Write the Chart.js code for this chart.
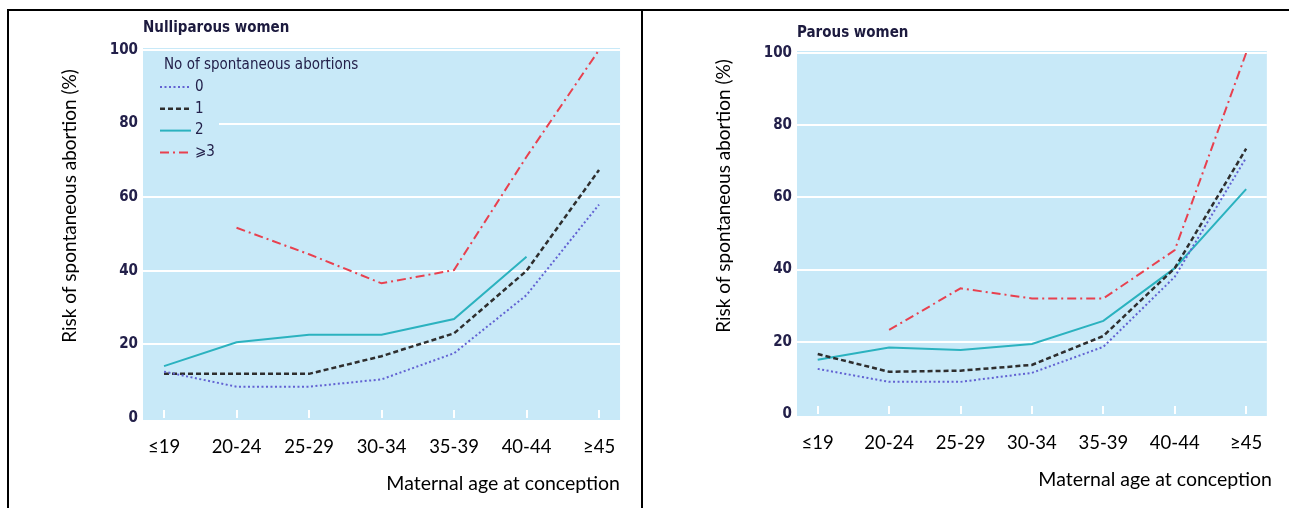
<!DOCTYPE html>
<html>
<head>
<meta charset="utf-8">
<script src="https://cdn.jsdelivr.net/npm/chart.js@4.4.1/dist/chart.umd.min.js"></script>
<style>
body { margin: 0; background: #fff; width: 1289px; height: 508px; overflow: hidden; position: relative; }
canvas { position: absolute; top: 0; }
.frame { position: absolute; background: #000; }
</style>
</head>
<body>
<canvas id="nulli" width="642" height="508" style="left:0"></canvas>
<canvas id="parous" width="647" height="508" style="left:642px"></canvas>
<div class="frame" style="left:7px;top:9px;width:1282px;height:2px"></div>
<div class="frame" style="left:7px;top:9px;width:2px;height:499px"></div>
<div class="frame" style="left:641px;top:9px;width:2px;height:499px"></div>
<script>
const ageLabels = ['≤19', '20-24', '25-29', '30-34', '35-39', '40-44', '≥45'];
const legendTitle = 'No of spontaneous abortions';
const seriesNames = ['0', '1', '2', '⩾3'];

// nulliparous women, risk (%) per age group
const nulliNone = [12.6, 8.5, 8.5, 10.5, 17.6, 33.4, 58];
const nulliOne = [12, 12, 12, 16.8, 23, 40, 67.4];
const nulliTwo = [14.1, 20.6, 22.6, 22.6, 26.9, 43.8, null];
const nulliThreePlus = [null, 51.7, 44.5, 36.6, 40.2, 71, 100];

// parous women
const parousNone = [12.5, 8.9, 8.9, 11.4, 18.6, 38, 71];
const parousOne = [16.6, 11.7, 12, 13.6, 21.6, 40.4, 73.5];
const parousTwo = [15, 18.4, 17.7, 19.4, 25.8, 40.4, 62.3];
const parousThreePlus = [null, 23.3, 34.8, 32, 32, 45.4, 100];

const lineStyles = [
    { color: '#6262d2', dash: [2, 2.5], width: 2 },
    { color: '#2e2e2e', dash: [5, 3], width: 2.5 },
    { color: '#2bb2bf', dash: [], width: 2 },
    { color: '#e8414f', dash: [9, 4, 2, 4], width: 2 }
];

const narrow = "'Liberation Sans Narrow', 'DejaVu Sans Condensed', sans-serif";
const plain = "Lato, 'Open Sans', 'Noto Sans', sans-serif";
const navy = '#23204a';

function makeDatasets(lists) {
    return lists.map((vals, i) => ({
        label: seriesNames[i],
        data: vals.map((v, j) => ({ x: j, y: v })),
        borderColor: lineStyles[i].color,
        borderDash: lineStyles[i].dash,
        borderWidth: lineStyles[i].width,
        pointRadius: 0,
        tension: 0,
        fill: false
    }));
}

function panelPlugin(t) {
    return {
        id: 'panel',
        beforeDraw(chart) {
            const { ctx, chartArea: a } = chart;
            ctx.save();
            ctx.fillStyle = '#c8e9f8';
            ctx.fillRect(a.left, a.top - 2, a.right - a.left, a.bottom - a.top + 4);
            ctx.restore();
        },
        afterDraw(chart) {
            const ctx = chart.ctx;
            ctx.save();
            ctx.textBaseline = 'middle';
            ctx.fillStyle = '#1c1a3e';
            ctx.font = 'bold 15px ' + narrow;
            ctx.textAlign = 'left';
            ctx.fillText(t.title, t.titleX, t.titleY);

            ctx.fillStyle = '#000';
            ctx.font = '19.5px ' + plain;
            ctx.textAlign = 'right';
            ctx.fillText('Maternal age at conception', t.xTitleX, t.xTitleY);

            ctx.font = '19px ' + plain;
            ctx.translate(t.yTitleX, t.yTitleY);
            ctx.rotate(-Math.PI / 2);
            ctx.textAlign = 'center';
            ctx.fillText('Risk of spontaneous abortion (%)', 0, 0);
            ctx.restore();
        }
    };
}

const legendPlugin = {
    id: 'inlineLegend',
    beforeDatasetsDraw(chart) {
        const { ctx, chartArea: a } = chart;
        ctx.save();
        ctx.fillStyle = '#c8e9f8';
        ctx.fillRect(a.left, a.top + 2, 76, 112);
        ctx.restore();
    },
    afterDatasetsDraw(chart) {
        const ctx = chart.ctx;
        ctx.save();
        ctx.textBaseline = 'middle';
        ctx.fillStyle = navy;
        ctx.font = '15px ' + narrow;
        ctx.fillText(legendTitle, 164, 65);
        seriesNames.forEach((name, i) => {
            const y = 87 + i * 21.8;
            const s = lineStyles[i];
            ctx.strokeStyle = s.color;
            ctx.lineWidth = s.width;
            ctx.setLineDash(s.dash);
            ctx.beginPath();
            ctx.moveTo(160, y);
            ctx.lineTo(191, y);
            ctx.stroke();
            ctx.fillText(name, 195, y);
        });
        ctx.restore();
    }
};

function makeOptions(yWidth, xHeight, top, right, tickPad) {
    return {
        responsive: false,
        animation: false,
        layout: { padding: { left: 0, top: top, right: right, bottom: 0 } },
        plugins: { legend: { display: false }, tooltip: { enabled: false } },
        scales: {
            x: {
                type: 'linear',
                min: -0.29,
                max: 6.29,
                afterBuildTicks(scale) { scale.ticks = ageLabels.map((l, i) => ({ value: i })); },
                afterFit(scale) { scale.height = xHeight; },
                ticks: {
                    callback: (v) => ageLabels[v],
                    font: { family: plain, size: 18.5 },
                    color: '#000',
                    padding: tickPad,
                    autoSkip: false,
                    maxRotation: 0
                },
                grid: { drawOnChartArea: false, drawTicks: true, tickLength: -8, color: '#fff', lineWidth: 2 },
                border: { display: false }
            },
            y: {
                min: 0,
                max: 100,
                afterFit(scale) { scale.width = yWidth; },
                ticks: {
                    stepSize: 20,
                    padding: 5,
                    color: navy,
                    font: { family: narrow, size: 15, weight: 'bold' }
                },
                grid: {
                    drawTicks: false,
                    lineWidth: 2,
                    color: (c) => (c.tick && c.tick.value === 0) ? 'rgba(0,0,0,0)' : '#fff'
                },
                border: { display: false }
            }
        }
    };
}

new Chart(document.getElementById('nulli'), {
    type: 'line',
    data: { datasets: makeDatasets([nulliNone, nulliOne, nulliTwo, nulliThreePlus]) },
    options: makeOptions(143, 90, 50, 20, 26),
    plugins: [
        panelPlugin({ title: 'Nulliparous women', titleX: 143, titleY: 28, xTitleX: 620, xTitleY: 484, yTitleX: 70, yTitleY: 206 }),
        legendPlugin
    ]
});

new Chart(document.getElementById('parous'), {
    type: 'line',
    data: { datasets: makeDatasets([parousNone, parousOne, parousTwo, parousThreePlus]) },
    options: makeOptions(155, 94, 53, 17, 26),
    plugins: [
        panelPlugin({ title: 'Parous women', titleX: 155, titleY: 33, xTitleX: 630, xTitleY: 480, yTitleX: 82, yTitleY: 196 })
    ]
});
</script>
</body>
</html>
